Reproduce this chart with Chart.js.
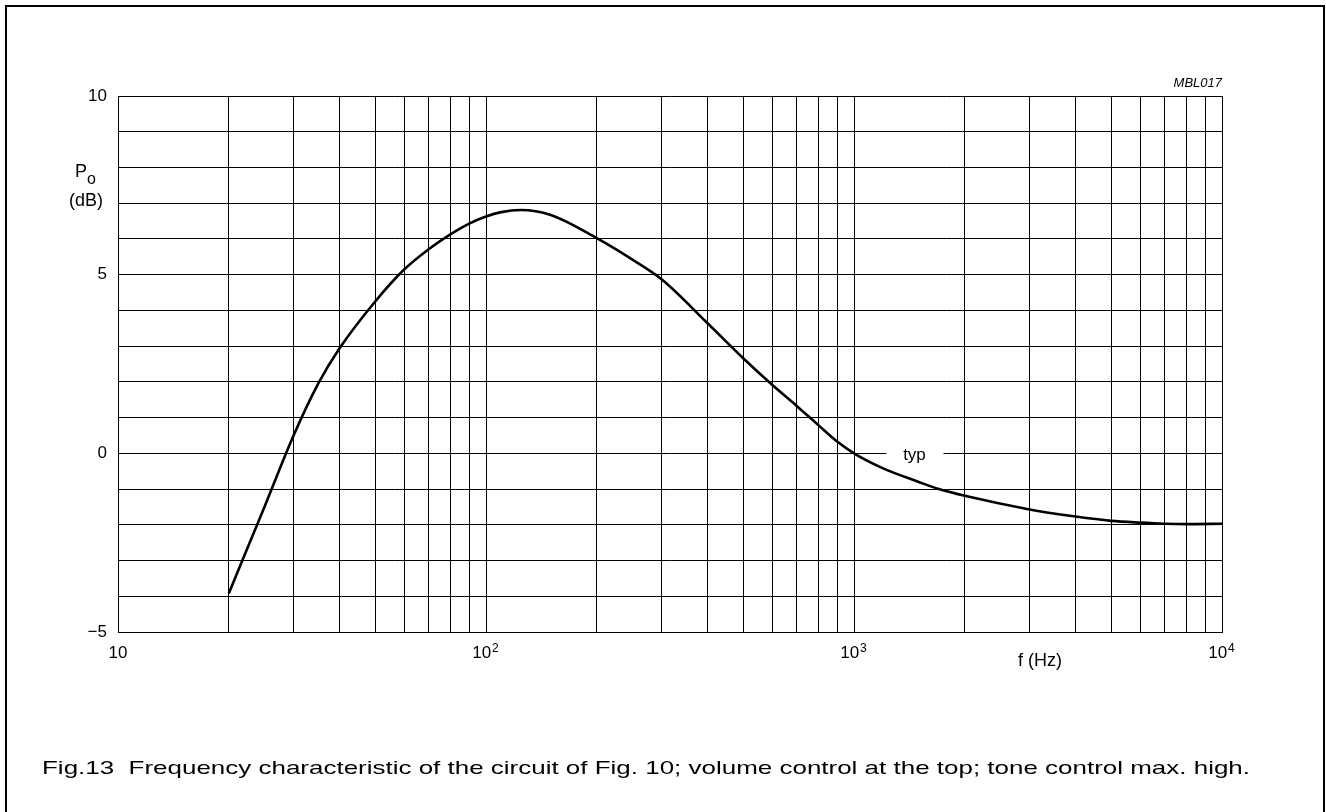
<!DOCTYPE html>
<html>
<head>
<meta charset="utf-8">
<script src="https://cdn.jsdelivr.net/npm/chart.js@4"></script>
<style>
  html, body { margin: 0; padding: 0; background: #fff; }
  #wrap { position: relative; width: 1326px; height: 812px; }
</style>
</head>
<body>
<div id="wrap"><canvas id="chartOne" width="1326" height="812"></canvas></div>
<script>
"use strict";

// frequency (Hz) and output level (dB)
let freqs = [20, 25, 30, 35, 40, 50, 60, 70, 80, 90, 100, 110, 124, 150, 200, 250, 300,
  400, 500, 600, 700, 800, 900, 1000, 1200, 1500, 1700, 2000, 3000, 4000, 5000,
  6000, 7000, 8000, 10000];
let levels = [-3.92, -1.5, 0.5, 1.95, 2.94, 4.25, 5.15, 5.72, 6.13, 6.43, 6.63, 6.75, 6.81,
  6.67, 6.02, 5.42, 4.87, 3.64, 2.66, 1.91, 1.32, 0.79, 0.33, 0.0, -0.42, -0.8,
  -1.0, -1.19, -1.57, -1.77, -1.89, -1.94, -1.97, -1.98, -1.97];

let yLabels = { "10": "10", "5": "5", "0": "0", "-5": "\u22125" };
let xExponents = { "10": "", "100": "2", "1000": "3", "10000": "4" };

let caption = "Fig.13  Frequency characteristic of the circuit of Fig. 10; volume control at the top; tone control max. high.";
let typAt = { x: 1460, y: 0 };

let points = freqs.map((f, i) => ({ x: f, y: levels[i] }));
let font = "'Liberation Sans', Arial, sans-serif";

let extras = {
  id: "extras",
  beforeDatasetsDraw(chart) {
    let ctx = chart.ctx;
    let xs = chart.scales.x, ys = chart.scales.y;
    // gap in the 0 dB line for the "typ" label
    let cx = xs.getPixelForValue(typAt.x);
    let cy = ys.getPixelForValue(typAt.y);
    ctx.save();
    ctx.fillStyle = "#fff";
    ctx.fillRect(cx - 28, cy - 3, 57, 6);
    ctx.fillStyle = "#000";
    ctx.font = "17px " + font;
    ctx.textAlign = "center";
    ctx.textBaseline = "middle";
    ctx.fillText("typ", cx, cy + 2);
    ctx.restore();
  },
  afterDraw(chart) {
    let ctx = chart.ctx;
    let area = chart.chartArea;
    let xs = chart.scales.x;
    ctx.save();
    // frame round the figure
    ctx.strokeStyle = "#000";
    ctx.lineWidth = 2;
    ctx.beginPath();
    ctx.moveTo(6, 812);
    ctx.lineTo(6, 6);
    ctx.lineTo(1324, 6);
    ctx.lineTo(1324, 812);
    ctx.stroke();

    ctx.fillStyle = "#000";
    // exponents of the decade labels
    ctx.font = "12px " + font;
    ctx.textAlign = "left";
    ctx.textBaseline = "alphabetic";
    for (let v in xExponents) {
      if (!xExponents[v]) continue;
      ctx.fillText(xExponents[v], xs.getPixelForValue(Number(v)) + 6, 652);
    }

    // axis titles
    ctx.font = "18px " + font;
    ctx.fillText("P", 75, 177);
    ctx.font = "16px " + font;
    ctx.fillText("o", 87, 184);
    ctx.font = "18px " + font;
    ctx.textAlign = "center";
    ctx.fillText("(dB)", 86, 206);
    ctx.fillText("f (Hz)", 1040, 666);

    ctx.font = "italic 13px " + font;
    ctx.textAlign = "right";
    ctx.fillText("MBL017", area.right, 87);

    // caption, stretched to the printed width
    ctx.font = "19px " + font;
    ctx.textAlign = "left";
    let w = ctx.measureText(caption).width;
    ctx.translate(42, 774);
    ctx.scale(1208 / w, 1);
    ctx.fillText(caption, 0, 0);
    ctx.restore();
  }
};

let ctxOne = document.getElementById("chartOne").getContext("2d");
let chartOne = new Chart(ctxOne, {
  type: "line",
  data: {
    datasets: [
      {
        data: points,
        borderColor: "#000",
        borderWidth: 2.6,
        pointRadius: 0,
        fill: false,
        cubicInterpolationMode: "monotone",
      },
    ],
  },
  options: {
    responsive: false,
    animation: false,
    layout: { padding: { left: 68, top: 96, right: 104, bottom: 140 } },
    plugins: {
      legend: { display: false },
      tooltip: { enabled: false },
    },
    scales: {
      x: {
        type: "logarithmic",
        min: 10,
        max: 10000,
        afterFit(scale) { scale.height = 40; },
        grid: { color: "#000", lineWidth: 1, drawTicks: false },
        border: { color: "#000", width: 1 },
        ticks: {
          autoSkip: false,
          maxRotation: 0,
          padding: 11,
          color: "#000",
          font: { family: font, size: 17 },
          callback: (v) => {
            let e = xExponents[String(v)];
            if (e === undefined) return "";
            return e ? "10\u2002" : "10";
          },
        },
        afterBuildTicks(scale) {
          let t = [];
          for (let d = 10; d < 10000; d *= 10) {
            for (let k = 1; k < 10; k++) t.push({ value: d * k });
          }
          t.push({ value: 10000 });
          scale.ticks = t;
        },
      },
      y: {
        min: -5,
        max: 10,
        afterFit(scale) { scale.width = 50; },
        grid: { color: "#000", lineWidth: 1, drawTicks: false },
        border: { color: "#000", width: 1 },
        ticks: {
          stepSize: 1,
          padding: 11,
          color: "#000",
          font: { family: font, size: 17 },
          callback: (v) => yLabels[String(v)] || "",
        },
      },
    },
  },
  plugins: [extras],
});
</script>
</body>
</html>
